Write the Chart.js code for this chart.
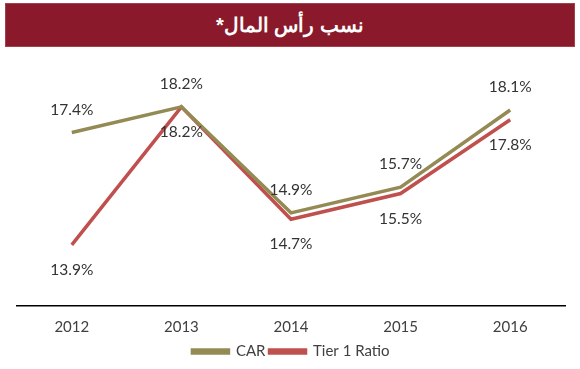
<!DOCTYPE html>
<html>
<head>
<meta charset="utf-8">
<script src="https://cdn.jsdelivr.net/npm/chart.js@4"></script>
<style>
  body { margin: 0; background: #fff; }
  #wrap { position: relative; width: 580px; height: 369px; }
  #banner {
    position: absolute; left: 5px; top: 3px; width: 568px; height: 42px;
    background: #8a1a2b; border: 1px solid #a3414f;
    color: #fff; font: bold 20px "Liberation Sans", Arial, sans-serif;
    text-align: center; line-height: 42px; direction: rtl;
  }
  canvas { position: absolute; left: 0; top: 0; }
</style>
</head>
<body>
<div id="wrap">
  <canvas id="myChart" width="580" height="369"></canvas>
  <div id="banner">نسب رأس المال*</div>
</div>
<script>
const years = ['2012', '2013', '2014', '2015', '2016'];
const carValues = [17.4, 18.2, 14.9, 15.7, 18.1];
const tier1Values = [13.9, 18.2, 14.7, 15.5, 17.8];
const seriesNames = ['CAR', 'Tier 1 Ratio'];

// labels above CAR, below Tier 1
const valueLabels = {
    id: 'valueLabels',
    afterDatasetsDraw(chart) {
        const ctx = chart.ctx;
        ctx.save();
        ctx.font = '15.5px Lato';
        ctx.fillStyle = '#333333';
        ctx.textAlign = 'center';
        ctx.textBaseline = 'middle';
        chart.data.datasets.forEach((ds, i) => {
            const meta = chart.getDatasetMeta(i);
            meta.data.forEach((pt, j) => {
                const off = i === 0 ? -23 : 25;
                ctx.fillText(ds.data[j].toFixed(1) + '%', pt.x, pt.y + off);
            });
        });
        ctx.restore();
    }
};

new Chart(document.getElementById('myChart'), {
    type: 'line',
    data: {
        labels: years,
        datasets: [{
            label: seriesNames[0],
            data: carValues,
            borderColor: '#948a54',
            backgroundColor: '#948a54',
            borderWidth: 3.5,
            pointRadius: 0,
            tension: 0
        }, {
            label: seriesNames[1],
            data: tier1Values,
            borderColor: '#c0504d',
            backgroundColor: '#c0504d',
            borderWidth: 3.5,
            pointRadius: 0,
            tension: 0
        }]
    },
    options: {
        responsive: false,
        animation: false,
        layout: { padding: { top: 49, left: 17, right: 15, bottom: 0 } },
        scales: {
            x: {
                offset: true,
                grid: { display: false },
                border: { display: true, color: '#000000', width: 1.5 },
                ticks: { color: '#404040', font: { family: 'Lato', size: 15 }, padding: 4 },
                afterFit(scale) { scale.height = 34; }
            },
            y: {
                display: false,
                min: 12,
                max: 20
            }
        },
        plugins: {
            legend: {
                position: 'bottom',
                labels: {
                    color: '#404040',
                    font: { family: 'Lato', size: 15 },
                    boxWidth: 36,
                    boxHeight: 3,
                    padding: 4
                }
            },
            tooltip: { enabled: false }
        }
    },
    plugins: [valueLabels]
});
</script>
</body>
</html>
